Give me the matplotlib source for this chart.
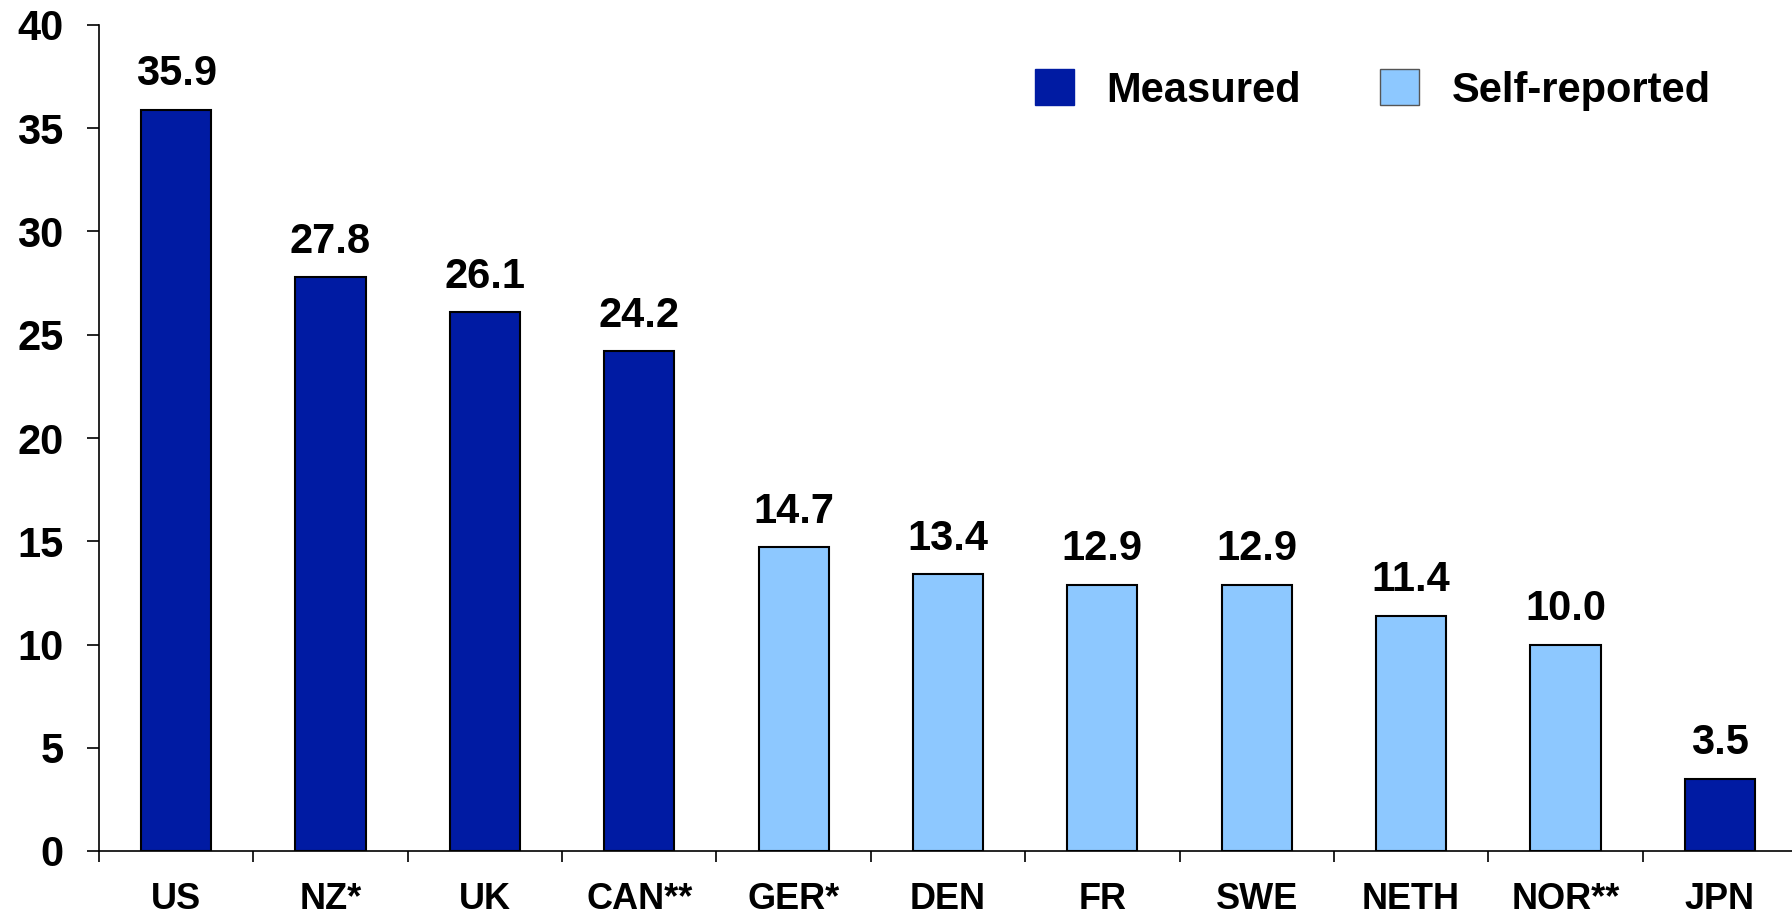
import numpy as np
import matplotlib.pyplot as plt
from matplotlib.patches import Patch

plt.rcParams["font.family"] = ["Liberation Sans", "DejaVu Sans"]
plt.rcParams["font.weight"] = "bold"

countries = ["US", "NZ*", "UK", "CAN**", "GER*", "DEN", "FR", "SWE", "NETH", "NOR**", "JPN"]
values = [35.9, 27.8, 26.1, 24.2, 14.7, 13.4, 12.9, 12.9, 11.4, 10.0, 3.5]
kinds = ["M", "M", "M", "M", "S", "S", "S", "S", "S", "S", "M"]

DARK = "#001ba3"
LIGHT = "#8dc8ff"
colors = [DARK if k == "M" else LIGHT for k in kinds]

fig = plt.figure(figsize=(17.92, 9.14), dpi=100)
# axis runs a touch past the right edge, like the original slide export
ax = fig.add_axes([99 / 1792, 1 - 851 / 914, (1797 - 99) / 1792, (851 - 25) / 914])

x = np.arange(len(countries))
ax.bar(x, values, width=0.455, color=colors, edgecolor="black", linewidth=1.5, zorder=3)

for xi, v in zip(x, values):
    ax.annotate(f"{v:.1f}", (xi, v), xytext=(0, 11), textcoords="offset points",
                ha="center", va="bottom", fontsize=30, fontweight="bold")

ax.set_xlim(-0.5, len(countries) - 0.5)
ax.set_ylim(0, 40)
ax.set_yticks(range(0, 41, 5))
ax.set_xticks(x)
ax.set_xticklabels(countries)
ax.set_xticks(np.arange(-0.5, len(countries), 1.0), minor=True)

ax.tick_params(axis="x", which="major", length=0, pad=22, labelsize=26)
ax.tick_params(axis="x", which="minor", length=8, width=1.2, direction="out")
ax.tick_params(axis="y", length=8.6, width=1.2, direction="out", pad=17, labelsize=30)

for side in ["top", "right"]:
    ax.spines[side].set_visible(False)
for side in ["left", "bottom"]:
    ax.spines[side].set_linewidth(1.2)

handles = [
    Patch(facecolor=DARK, edgecolor=DARK, label="Measured"),
    Patch(facecolor=LIGHT, edgecolor="#555555", linewidth=1, label="Self-reported"),
]
fig.legend(handles=handles, loc="center left", bbox_to_anchor=(1035 / 1792, 1 - 90 / 914),
           ncol=2, frameon=False, fontsize=30, handlelength=0.93, handleheight=0.93,
           handletextpad=0.79, columnspacing=1.9, borderpad=0, borderaxespad=0)

fig.savefig("out.png", dpi=100)
